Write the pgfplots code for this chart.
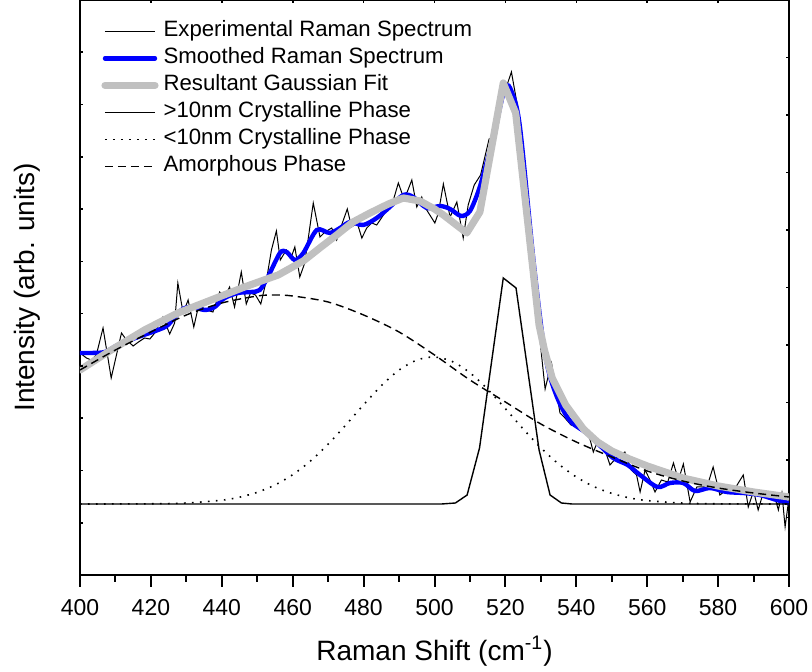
\documentclass[border=0pt]{standalone}
\usepackage{fontspec}
\setmainfont{Liberation Sans}
\usepackage{pgfplots}
\pgfplotsset{compat=1.18}
\definecolor{fitgray}{RGB}{192,192,192}
\begin{document}
\begin{tikzpicture}
\begin{axis}[name=ax, scale only axis, width=354.5pt, height=287.5pt,
  xmin=400, xmax=600, ymin=0, ymax=575,
  axis line style={line width=1pt},
  xtick={400,420,...,600}, minor x tick num=1, xtick pos=left,
  ytick=\empty,
  tick align=outside, major tick length=6pt, minor tick length=3.5pt,
  every tick/.style={line width=1pt, black},
  /pgf/number format/assume math mode=true,
  xticklabel style={font=\fontsize{11.5}{13}\selectfont, yshift=-2.5pt},
  xlabel={Raman Shift (cm\textsuperscript{-1})},
  ylabel={Intensity (arb. units)},
  xlabel style={at={(axis description cs:0.5,-0.148)}, anchor=base, font=\fontsize{14}{16}\selectfont},
  ylabel style={at={(axis description cs:-0.0635,0.5)}, anchor=base, font=\fontsize{14}{16}\selectfont},
  legend cell align=left,
  legend image code/.code={\draw[#1] (0pt,0pt) -- (25pt,0pt);},
  legend style={at={(0,1)}, anchor=north west, xshift=10.5pt, yshift=-10.25pt,
    draw=none, fill=none, inner sep=0pt, column sep=2.5pt, row sep=3.0pt,
    font=\fontsize{11.1}{13}\selectfont,
    nodes={inner sep=0pt, text height=8pt, text depth=2.5pt}},
]
% Experimental
\addplot[black, line width=0.5pt] coordinates {
(400.4,221)(401.8,217)(403.2,215)(404.6,220)(406.5,247)(408.8,197)(411.7,242)(413.1,235)(415,229)(416.5,233)(418.2,237)(419.7,236)(421.1,242)(423.4,258)(425.3,241)(426.7,252)(427.6,292)(429.1,262)(430.5,275)(432.1,248)(433.5,270)(435.6,265)(437.5,263)(439.4,283)(440.8,278)(442.2,288)(443.6,268)(445.5,303)(446.9,271)(448.1,282)(449.5,280)(451,271)(452.6,295)(454,325)(455.4,344)(456.5,315)(458.2,325)(459.6,318)(460.6,328)(462,298)(463.4,312)(465.8,372)(467.7,338)(469.1,343)(471,347)(472.4,335)(473.8,350)(475.4,366)(476.6,348)(478.2,352)(479.5,337)(480.9,347)(482.3,352)(483.7,350)(485.6,360)(487,368)(488.4,375)(489.8,392)(491.2,378)(492.3,383)(493.6,395)(495,368)(496.4,378)(497.8,365)(500.1,352)(501.1,362)(502.5,391)(504.4,358)(506.3,373)(508.1,337)(509.5,370)(511.2,390)(513,400)(515.4,436)(517.3,437)(519.5,480)(521.7,503)(523.6,465)(525.5,400)(527.4,315)(529.3,250)(531.2,186)(533,212)(535.4,162)(536.8,157)(538.5,150)(540.5,148)(542,143)(543.4,142)(544.8,123)(546.2,135)(547.8,128)(549.5,110)(551.5,118)(553.7,123)(555.5,105)(557,100)(558,83)(559.4,105)(560.8,95)(562.2,83)(564,95)(565.8,93)(567.4,112)(568.8,95)(570.2,111)(572.1,73)(574,88)(575.9,88)(577.2,92)(578.6,108)(580.5,80)(582.3,85)(584.2,83)(585.7,92)(587.1,100)(588.5,68)(590,84)(591.3,65)(592.8,83)(594.3,80)(595.6,83)(597,65)(598,82)(598.9,48)(599.8,72)
};
\addlegendentry{Experimental Raman Spectrum}
% Smoothed
\addplot[blue, line width=2.2pt, line cap=round, smooth, tension=0.5] coordinates {
(400,222)(403,222)(407,223)(410.7,230)(416.4,238)(422,245)(424.8,250)(428.6,265)(431.4,268)(435.2,265)(438,268)(440.8,277)(444.6,282)(448.3,283)(450.7,285)(453,298)(456.4,322)(458.3,323)(460.6,315)(463,322)(466.8,345)(470.5,342)(473.8,348)(476.2,353)(479.9,350)(483.7,357)(487.4,368)(491.2,380)(494,378)(497.8,367)(501.6,369)(504.4,366)(507.5,359)(510,364)(512.5,385)(514.5,410)(516.6,438)(519.9,487)(521.8,483)(524.1,448)(527.9,315)(530.7,232)(532.6,198)(535.4,171)(538.5,153)(542.9,142)(546.2,131)(550.4,117)(554.5,110)(558,100)(562.9,88)(566.4,92)(570.2,92)(573.5,84)(577.7,87)(582.4,83)(587.1,82)(591.8,80)(596.5,75)(600,72)
};
\addlegendentry{Smoothed Raman Spectrum}
% Gaussian fit
\addplot[fitgray, line width=3.6pt, line cap=round, line join=round] coordinates {
(400,205)(408.8,225)(418.2,245)(427.6,262)(437,275)(446.4,288)(455.9,300)(463,314)(468,328)(472.4,340)(477,353)(481.8,362)(487,371)(491.2,377)(495.9,374)(500,366)(502.5,360)(505.8,351)(509.1,342)(512.8,363)(519.4,492)(522.9,462)(529.5,250)(531,225)(533.2,197)(537,170)(542,146)(546,133)(550,124)(555,116)(560,109)(570,97)(580,89)(590,83)(600,78)
};
\addlegendentry{Resultant Gaussian Fit}
% >10 nm crystalline
\addplot[black, line width=0.7pt] coordinates {
(400,71)(502,71)(505.9,72)(509.2,80)(512.7,127)(519.4,297)(523,287)(529.5,125)(532.6,80)(535.8,72)(538.8,71)(600,71)
};
\addlegendentry{>10nm Crystalline Phase}
% <10 nm crystalline
\addplot[black, line width=0.8pt, dash pattern=on 0.8pt off 3.2pt, smooth] coordinates {
(400,71)(420,71.2)(430,72)(440,74.8)(445,77.8)(450,82.7)(455,90)(460,100.3)(465,113.9)(470,130.8)(475,150.1)(480,170.2)(485,189.3)(490,204.9)(495,214.9)(500,218)(505,213.5)(510,202.2)(515,185.7)(520,166.3)(525,146.1)(530,127.2)(535,111)(540,98)(545,88.3)(550,81.6)(555,77.1)(560,74.4)(570,71.9)(580,71.2)(600,71)
};
\addlegendentry{<10nm Crystalline Phase}
% Amorphous
\addplot[black, line width=0.7pt, dash pattern=on 4pt off 2.5pt, smooth] coordinates {
(400,205)(410,225)(420,243)(430,260)(440,272)(450,279)(455,280)(460,279)(470,273)(480,260)(490,243)(500,220)(510,195)(520,173)(530,151)(540,133)(550,118)(560,104)(570,94)(580,87)(590,82)(600,78)
};
\addlegendentry{Amorphous Phase}
\end{axis}
% inward ticks: top and left
\begin{axis}[scale only axis, width=354.5pt, height=287.5pt,
  xmin=400, xmax=600, ymin=0, ymax=575,
  axis line style={draw=none},
  xtick={420,440,...,580}, xticklabels={}, xtick pos=right,
  ytick={52.27,104.55,156.82,209.09,261.36,313.64,365.91,418.18,470.45,522.73}, yticklabels={}, ytick pos=left,
  tick align=inside, major tick length=1.6pt,
  every tick/.style={line width=0.8pt, black}]
\end{axis}
% inward ticks: right
\begin{axis}[scale only axis, width=354.5pt, height=287.5pt,
  xmin=400, xmax=600, ymin=0, ymax=575,
  axis line style={draw=none},
  xtick=\empty,
  ytick={57.5,115,172.5,230,287.5,345,402.5,460,517.5}, yticklabels={}, ytick pos=right,
  tick align=inside, major tick length=1.6pt,
  every tick/.style={line width=0.8pt, black}]
\end{axis}
\pgfresetboundingbox
\path ([shift={(-40pt,-48.5pt)}]ax.south west) rectangle ([shift={(11.5pt,0pt)}]ax.north east);
\end{tikzpicture}
\end{document}
